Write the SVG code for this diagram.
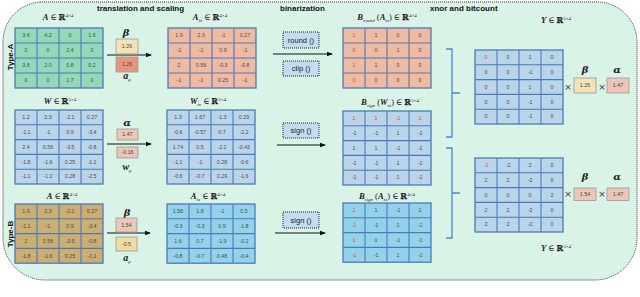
<svg xmlns="http://www.w3.org/2000/svg" width="640" height="297" viewBox="0 0 640 297">
<style>
.c{font-family:"Liberation Sans",Arial,sans-serif;font-size:5.3px;fill:#4a4a4a;text-anchor:middle}
.r{fill:#e5453c}
.g{fill:none;stroke:#4f79b6;stroke-width:1.1}
.mb{stroke:#4f79b6;stroke-width:1.3}
.t{font-family:"Liberation Sans",Arial,sans-serif;font-size:8px;font-weight:bold;fill:#111}
.m{font-family:"Liberation Serif","DejaVu Serif",serif;font-size:8.5px;fill:#222;text-anchor:middle}
.i{font-style:italic;font-weight:bold}
.bb{font-family:"DejaVu Serif",serif;font-weight:bold;font-size:8px}
.sp{font-size:5px}
.sb{font-size:5px;font-style:italic}
.gk{font-family:"DejaVu Serif","Liberation Serif",serif;font-size:10px;font-style:italic;font-weight:bold;fill:#222;text-anchor:middle}
.vb{stroke:#9a9a9a;stroke-width:0.8}
.vt{font-family:"Liberation Sans",Arial,sans-serif;font-size:5.3px;fill:#444;text-anchor:middle}
.op{fill:#c2dcf1;stroke:#222;stroke-width:1;stroke-dasharray:1 1}
.ot{font-family:"Liberation Sans",Arial,sans-serif;font-size:7.5px;fill:#222;text-anchor:middle}
.ar{stroke:#111;stroke-width:1.2;fill:none;marker-end:url(#ah)}
.br{fill:none;stroke:#4a86dc;stroke-width:1.3}
.x{font-family:"DejaVu Sans",sans-serif;font-size:9px;fill:#333;text-anchor:middle}
</style>
<defs>
<marker id="ah" markerWidth="6" markerHeight="6" refX="5" refY="3" orient="auto" markerUnits="userSpaceOnUse"><path d="M0,0.8 L6,3 L0,5.2 Z" fill="#111"/></marker>
</defs>
<path d="M40,2 H597 A40,40 0 0 1 637,42 V238 A42,42 0 0 1 595,280 H45 A42,42 0 0 1 3,238 V42 A40,40 0 0 1 40,2 Z" fill="#d9f3e7" stroke="#333" stroke-width="1" stroke-dasharray="1 1"/>
<g id="titles">
<text class="t" x="97" y="11">translation and scaling</text>
<text class="t" x="280" y="11">binarization</text>
<text class="t" x="430" y="11">xnor and bitcount</text>
<text class="t" transform="translate(13,57) rotate(-90)" text-anchor="middle">Type-A</text>
<text class="t" transform="translate(13,234) rotate(-90)" text-anchor="middle">Type-B</text>
</g>
<g id="connectors">
<path class="ar" d="M107,55 H151"/>
<path class="ar" d="M107,144 H151"/>
<path class="ar" d="M107,233 H150"/>
<path class="ar" d="M273,54 H332"/>
<path class="ar" d="M277,145 H325"/>
<path class="ar" d="M275,233 H325"/>
<path class="br" d="M446,49 H452 V137 H446 M452,93 H460"/>
<path class="br" d="M446,148 H452 V238 H446 M452,193 H460"/>
</g>
<g id="matA1">
<text class="m" x="58" y="20"><tspan class="i">A</tspan> ∈ <tspan class="bb">ℝ</tspan><tspan class="sp" dy="-3.5">4×4</tspan></text>
<rect x="15" y="28" width="88" height="60" fill="#93d8b9" class="mb"/>
<path class="g" d="M37,28V88M59,28V88M81,28V88M15,43H103M15,58H103M15,73H103"/>
<text class="c" x="26" y="37.3">3.6</text><text class="c" x="48" y="37.3">4.2</text><text class="c" x="70" y="37.3">0</text><text class="c" x="92" y="37.3">1.6</text>
<text class="c" x="26" y="52.3">0</text><text class="c" x="48" y="52.3">0</text><text class="c" x="70" y="52.3">2.4</text><text class="c" x="92" y="52.3">0</text>
<text class="c" x="26" y="67.3">3.8</text><text class="c" x="48" y="67.3">2.0</text><text class="c" x="70" y="67.3">0.8</text><text class="c" x="92" y="67.3">0.2</text>
<text class="c" x="26" y="82.3">0</text><text class="c" x="48" y="82.3">0</text><text class="c" x="70" y="82.3">1.7</text><text class="c" x="92" y="82.3">0</text>
</g>
<g id="scaleA1">
<text class="gk" x="126" y="36">β</text>
<rect x="116" y="39" width="22" height="15" fill="#f3e2b5" class="vb"/>
<text class="vt" x="127" y="48.3">1.26</text>
<rect x="116" y="57" width="22" height="15" fill="#e8967b" class="vb"/>
<text class="vt" x="127" y="66.3">1.26</text>
<text class="m" x="127" y="79"><tspan class="i" font-size="10">a</tspan><tspan class="sb" dy="2">μ</tspan></text>
</g>
<g id="matAtx1">
<text class="m" x="210" y="20"><tspan class="i">A</tspan><tspan class="sb" dy="2">tx</tspan><tspan dy="-2"> ∈ </tspan><tspan class="bb">ℝ</tspan><tspan class="sp" dy="-3.5">4×4</tspan></text>
<rect x="168" y="28" width="88" height="60" fill="#efbaa2" class="mb"/>
<path class="g" d="M190,28V88M212,28V88M234,28V88M168,43H256M168,58H256M168,73H256"/>
<text class="c" x="179" y="37.3">1.9</text><text class="c" x="201" y="37.3">2.3</text><text class="c" x="223" y="37.3">-1</text><text class="c" x="245" y="37.3">0.27</text>
<text class="c" x="179" y="52.3">-1</text><text class="c" x="201" y="52.3">-1</text><text class="c" x="223" y="52.3">0.9</text><text class="c" x="245" y="52.3">-1</text>
<text class="c" x="179" y="67.3">2</text><text class="c" x="201" y="67.3">0.56</text><text class="c" x="223" y="67.3">-0.3</text><text class="c" x="245" y="67.3">-0.8</text>
<text class="c" x="179" y="82.3">-1</text><text class="c" x="201" y="82.3">-1</text><text class="c" x="223" y="82.3">0.25</text><text class="c" x="245" y="82.3">-1</text>
</g>
<g id="opRound"><rect x="283" y="32" width="36" height="16" class="op"/><text class="ot" x="301" y="42.7">round ()</text></g>
<g id="opClip"><rect x="283" y="61" width="36" height="15" class="op"/><text class="ot" x="301" y="71.2">clip ()</text></g>
<g id="matBround">
<text class="m" x="387" y="20"><tspan class="i">B</tspan><tspan class="sb" dy="2">round</tspan><tspan dy="-2"> (</tspan><tspan class="i">A</tspan><tspan class="sb" dy="2">tx</tspan><tspan dy="-2">) ∈ </tspan><tspan class="bb">ℝ</tspan><tspan class="sp" dy="-3.5">4×4</tspan></text>
<rect x="343" y="28" width="88" height="60" fill="#efbaa2" class="mb"/>
<path class="g" d="M365,28V88M387,28V88M409,28V88M343,43H431M343,58H431M343,73H431"/>
<text class="c r" x="354" y="37.3">1</text><text class="c" x="376" y="37.3">1</text><text class="c" x="398" y="37.3">0</text><text class="c" x="420" y="37.3">0</text>
<text class="c r" x="354" y="52.3">0</text><text class="c" x="376" y="52.3">0</text><text class="c" x="398" y="52.3">1</text><text class="c" x="420" y="52.3">0</text>
<text class="c r" x="354" y="67.3">1</text><text class="c" x="376" y="67.3">1</text><text class="c" x="398" y="67.3">0</text><text class="c" x="420" y="67.3">0</text>
<text class="c r" x="354" y="82.3">0</text><text class="c" x="376" y="82.3">0</text><text class="c" x="398" y="82.3">0</text><text class="c" x="420" y="82.3">0</text>
</g>
<g id="matW">
<text class="m" x="60" y="104"><tspan class="i">W</tspan> ∈ <tspan class="bb">ℝ</tspan><tspan class="sp" dy="-3.5">5×4</tspan></text>
<rect x="15" y="110" width="88" height="74" fill="#bad5ea" class="mb"/>
<path class="g" d="M37,110V184M59,110V184M81,110V184M15,124.8H103M15,139.6H103M15,154.4H103M15,169.2H103"/>
<text class="c" x="26" y="119.2">1.2</text><text class="c" x="48" y="119.2">2.3</text><text class="c" x="70" y="119.2">-2.1</text><text class="c" x="92" y="119.2">0.27</text>
<text class="c" x="26" y="134">-1.1</text><text class="c" x="48" y="134">-1</text><text class="c" x="70" y="134">0.9</text><text class="c" x="92" y="134">-3.4</text>
<text class="c" x="26" y="148.8">2.4</text><text class="c" x="48" y="148.8">0.56</text><text class="c" x="70" y="148.8">-3.5</text><text class="c" x="92" y="148.8">-0.8</text>
<text class="c" x="26" y="163.6">-1.8</text><text class="c" x="48" y="163.6">-1.6</text><text class="c" x="70" y="163.6">0.25</text><text class="c" x="92" y="163.6">-1.1</text>
<text class="c" x="26" y="178.4">-1.1</text><text class="c" x="48" y="178.4">-1.2</text><text class="c" x="70" y="178.4">0.28</text><text class="c" x="92" y="178.4">-2.5</text>
</g>
<g id="scaleW">
<text class="gk" x="127" y="126">α</text>
<rect x="117" y="129" width="21" height="11" fill="#ecc6b6" class="vb"/>
<text class="vt" x="127.5" y="136.4">1.47</text>
<rect x="117" y="147" width="21" height="11" fill="#ecc6b6" class="vb"/>
<text class="vt" x="127.5" y="154.4">-0.16</text>
<text class="m" x="127" y="170"><tspan class="i" font-size="10">w</tspan><tspan class="sb" dy="2">μ</tspan></text>
</g>
<g id="matWtx">
<text class="m" x="208" y="104"><tspan class="i">W</tspan><tspan class="sb" dy="2">tx</tspan><tspan dy="-2"> ∈ </tspan><tspan class="bb">ℝ</tspan><tspan class="sp" dy="-3.5">5×4</tspan></text>
<rect x="167" y="110" width="88" height="74" fill="#bad5ea" class="mb"/>
<path class="g" d="M189,110V184M211,110V184M233,110V184M167,124.8H255M167,139.6H255M167,154.4H255M167,169.2H255"/>
<text class="c" x="178" y="119.2">1.3</text><text class="c" x="200" y="119.2">1.67</text><text class="c" x="222" y="119.2">-1.3</text><text class="c" x="244" y="119.2">0.29</text>
<text class="c" x="178" y="134">-0.6</text><text class="c" x="200" y="134">-0.57</text><text class="c" x="222" y="134">0.7</text><text class="c" x="244" y="134">-2.2</text>
<text class="c" x="178" y="148.8">1.74</text><text class="c" x="200" y="148.8">0.5</text><text class="c" x="222" y="148.8">-2.2</text><text class="c" x="244" y="148.8">-0.43</text>
<text class="c" x="178" y="163.6">-1.1</text><text class="c" x="200" y="163.6">-1</text><text class="c" x="222" y="163.6">0.28</text><text class="c" x="244" y="163.6">-0.6</text>
<text class="c" x="178" y="178.4">-0.6</text><text class="c" x="200" y="178.4">-0.7</text><text class="c" x="222" y="178.4">0.29</text><text class="c" x="244" y="178.4">-1.6</text>
</g>
<g id="opSignW"><rect x="283" y="123" width="36" height="15" class="op"/><text class="ot" x="301" y="133.2">sign ()</text></g>
<g id="matBsignW">
<text class="m" x="390" y="105"><tspan class="i">B</tspan><tspan class="sb" dy="2">sign</tspan><tspan dy="-2"> (</tspan><tspan class="i">W</tspan><tspan class="sb" dy="2">tx</tspan><tspan dy="-2">) ∈ </tspan><tspan class="bb">ℝ</tspan><tspan class="sp" dy="-3.5">5×4</tspan></text>
<rect x="343" y="111" width="88" height="74" fill="#bad5ea" class="mb"/>
<path class="g" d="M365,111V185M387,111V185M409,111V185M343,125.8H431M343,140.6H431M343,155.4H431M343,170.2H431"/>
<text class="c r" x="354" y="120.2">1</text><text class="c r" x="376" y="120.2">1</text><text class="c r" x="398" y="120.2">-1</text><text class="c r" x="420" y="120.2">1</text>
<text class="c" x="354" y="135">-1</text><text class="c" x="376" y="135">-1</text><text class="c" x="398" y="135">1</text><text class="c" x="420" y="135">-1</text>
<text class="c" x="354" y="149.8">1</text><text class="c" x="376" y="149.8">1</text><text class="c" x="398" y="149.8">-1</text><text class="c" x="420" y="149.8">-1</text>
<text class="c" x="354" y="164.6">-1</text><text class="c" x="376" y="164.6">-1</text><text class="c" x="398" y="164.6">1</text><text class="c" x="420" y="164.6">-1</text>
<text class="c" x="354" y="179.4">-1</text><text class="c" x="376" y="179.4">-1</text><text class="c" x="398" y="179.4">1</text><text class="c" x="420" y="179.4">-1</text>
</g>
<g id="matA2">
<text class="m" x="62" y="199"><tspan class="i">A</tspan> ∈ <tspan class="bb">ℝ</tspan><tspan class="sp" dy="-3.5">4×4</tspan></text>
<rect x="15" y="204" width="88" height="59.2" fill="#cbae74" class="mb"/>
<path class="g" d="M37,204V263.2M59,204V263.2M81,204V263.2M15,218.8H103M15,233.6H103M15,248.4H103"/>
<text class="c" x="26" y="213.2">1.9</text><text class="c" x="48" y="213.2">2.3</text><text class="c" x="70" y="213.2">-2.1</text><text class="c" x="92" y="213.2">0.27</text>
<text class="c" x="26" y="228">-1.1</text><text class="c" x="48" y="228">-1</text><text class="c" x="70" y="228">0.9</text><text class="c" x="92" y="228">-3.4</text>
<text class="c" x="26" y="242.8">2</text><text class="c" x="48" y="242.8">0.56</text><text class="c" x="70" y="242.8">-3.5</text><text class="c" x="92" y="242.8">-0.8</text>
<text class="c" x="26" y="257.6">-1.8</text><text class="c" x="48" y="257.6">-1.6</text><text class="c" x="70" y="257.6">0.25</text><text class="c" x="92" y="257.6">-1.1</text>
</g>
<g id="scaleA2">
<text class="gk" x="127" y="216">β</text>
<rect x="116" y="218" width="21" height="14" fill="#ecc6b6" class="vb"/>
<text class="vt" x="126.5" y="226.8">1.54</text>
<rect x="116" y="237" width="21" height="14" fill="#f2dba0" class="vb"/>
<text class="vt" x="126.5" y="245.8">-0.5</text>
<text class="m" x="127" y="261"><tspan class="i" font-size="10">a</tspan><tspan class="sb" dy="2">μ</tspan></text>
</g>
<g id="matAtx2">
<text class="m" x="208" y="199"><tspan class="i">A</tspan><tspan class="sb" dy="2">tx</tspan><tspan dy="-2"> ∈ </tspan><tspan class="bb">ℝ</tspan><tspan class="sp" dy="-3.5">4×4</tspan></text>
<rect x="167" y="204" width="88" height="59.2" fill="#93d2ea" class="mb"/>
<path class="g" d="M189,204V263.2M211,204V263.2M233,204V263.2M167,218.8H255M167,233.6H255M167,248.4H255"/>
<text class="c" x="178" y="213.2">1.56</text><text class="c" x="200" y="213.2">1.8</text><text class="c" x="222" y="213.2">-1</text><text class="c" x="244" y="213.2">0.5</text>
<text class="c" x="178" y="228">-0.3</text><text class="c" x="200" y="228">-0.3</text><text class="c" x="222" y="228">0.9</text><text class="c" x="244" y="228">-1.8</text>
<text class="c" x="178" y="242.8">1.6</text><text class="c" x="200" y="242.8">0.7</text><text class="c" x="222" y="242.8">-1.9</text><text class="c" x="244" y="242.8">-0.2</text>
<text class="c" x="178" y="257.6">-0.8</text><text class="c" x="200" y="257.6">-0.7</text><text class="c" x="222" y="257.6">0.48</text><text class="c" x="244" y="257.6">-0.4</text>
</g>
<g id="opSignA"><rect x="283" y="212" width="36" height="16" class="op"/><text class="ot" x="301" y="222.7">sign ()</text></g>
<g id="matBsignA">
<text class="m" x="387" y="199"><tspan class="i">B</tspan><tspan class="sb" dy="2">sign</tspan><tspan dy="-2"> (</tspan><tspan class="i">A</tspan><tspan class="sb" dy="2">tx</tspan><tspan dy="-2">) ∈ </tspan><tspan class="bb">ℝ</tspan><tspan class="sp" dy="-3.5">4×4</tspan></text>
<rect x="343" y="203" width="88" height="59.2" fill="#93d2ea" class="mb"/>
<path class="g" d="M365,203V262.2M387,203V262.2M409,203V262.2M343,217.8H431M343,232.6H431M343,247.4H431"/>
<text class="c r" x="354" y="212.2">1</text><text class="c" x="376" y="212.2">1</text><text class="c" x="398" y="212.2">-1</text><text class="c" x="420" y="212.2">1</text>
<text class="c r" x="354" y="227">-1</text><text class="c" x="376" y="227">-1</text><text class="c" x="398" y="227">1</text><text class="c" x="420" y="227">-1</text>
<text class="c r" x="354" y="241.8">1</text><text class="c" x="376" y="241.8">1</text><text class="c" x="398" y="241.8">-1</text><text class="c" x="420" y="241.8">-1</text>
<text class="c r" x="354" y="256.6">-1</text><text class="c" x="376" y="256.6">-1</text><text class="c" x="398" y="256.6">1</text><text class="c" x="420" y="256.6">-1</text>
</g>
<g id="matY1">
<text class="m" x="556" y="23"><tspan class="i">Y</tspan> ∈ <tspan class="bb">ℝ</tspan><tspan class="sp" dy="-3.5">5×4</tspan></text>
<rect x="475" y="50" width="88" height="74" fill="#bad5ea" class="mb"/>
<path class="g" d="M497,50V124M519,50V124M541,50V124M475,64.8H563M475,79.6H563M475,94.4H563M475,109.2H563"/>
<text class="c r" x="486" y="59.2">0</text><text class="c" x="508" y="59.2">0</text><text class="c" x="530" y="59.2">1</text><text class="c" x="552" y="59.2">0</text>
<text class="c" x="486" y="74">0</text><text class="c" x="508" y="74">0</text><text class="c" x="530" y="74">-1</text><text class="c" x="552" y="74">0</text>
<text class="c" x="486" y="88.8">0</text><text class="c" x="508" y="88.8">0</text><text class="c" x="530" y="88.8">1</text><text class="c" x="552" y="88.8">0</text>
<text class="c" x="486" y="103.6">0</text><text class="c" x="508" y="103.6">0</text><text class="c" x="530" y="103.6">-1</text><text class="c" x="552" y="103.6">0</text>
<text class="c" x="486" y="118.4">0</text><text class="c" x="508" y="118.4">0</text><text class="c" x="530" y="118.4">-1</text><text class="c" x="552" y="118.4">0</text>
</g>
<g id="outScale1">
<text class="x" x="568" y="90">×</text>
<text class="gk" x="585" y="73">β</text>
<rect x="574" y="78" width="22" height="15" fill="#f3e2b5" class="vb"/>
<text class="vt" x="585" y="87.3">1.26</text>
<text class="x" x="602" y="90">×</text>
<text class="gk" x="617" y="73">α</text>
<rect x="607" y="78" width="22" height="15" fill="#ecc6b6" class="vb"/>
<text class="vt" x="618" y="87.3">1.47</text>
</g>
<g id="matY2">
<rect x="475" y="158" width="88" height="74" fill="#bad5ea" class="mb"/>
<path class="g" d="M497,158V232M519,158V232M541,158V232M475,172.8H563M475,187.6H563M475,202.4H563M475,217.2H563"/>
<text class="c r" x="486" y="167.2">-2</text><text class="c" x="508" y="167.2">-2</text><text class="c" x="530" y="167.2">2</text><text class="c" x="552" y="167.2">0</text>
<text class="c" x="486" y="182">2</text><text class="c" x="508" y="182">2</text><text class="c" x="530" y="182">-2</text><text class="c" x="552" y="182">0</text>
<text class="c" x="486" y="196.8">0</text><text class="c" x="508" y="196.8">0</text><text class="c" x="530" y="196.8">0</text><text class="c" x="552" y="196.8">2</text>
<text class="c" x="486" y="211.6">2</text><text class="c" x="508" y="211.6">2</text><text class="c" x="530" y="211.6">-2</text><text class="c" x="552" y="211.6">0</text>
<text class="c" x="486" y="226.4">2</text><text class="c" x="508" y="226.4">2</text><text class="c" x="530" y="226.4">-2</text><text class="c" x="552" y="226.4">0</text>
<text class="m" x="556" y="251"><tspan class="i">Y</tspan> ∈ <tspan class="bb">ℝ</tspan><tspan class="sp" dy="-3.5">5×4</tspan></text>
</g>
<g id="outScale2">
<text class="x" x="568" y="197">×</text>
<text class="gk" x="585" y="180">β</text>
<rect x="574" y="188" width="22" height="12.5" fill="#ecc6b6" class="vb"/>
<text class="vt" x="585" y="196.1">1.54</text>
<text class="x" x="602" y="197">×</text>
<text class="gk" x="617" y="180">α</text>
<rect x="607" y="188" width="22" height="12.5" fill="#ecc6b6" class="vb"/>
<text class="vt" x="618" y="196.1">1.47</text>
</g>
</svg>
